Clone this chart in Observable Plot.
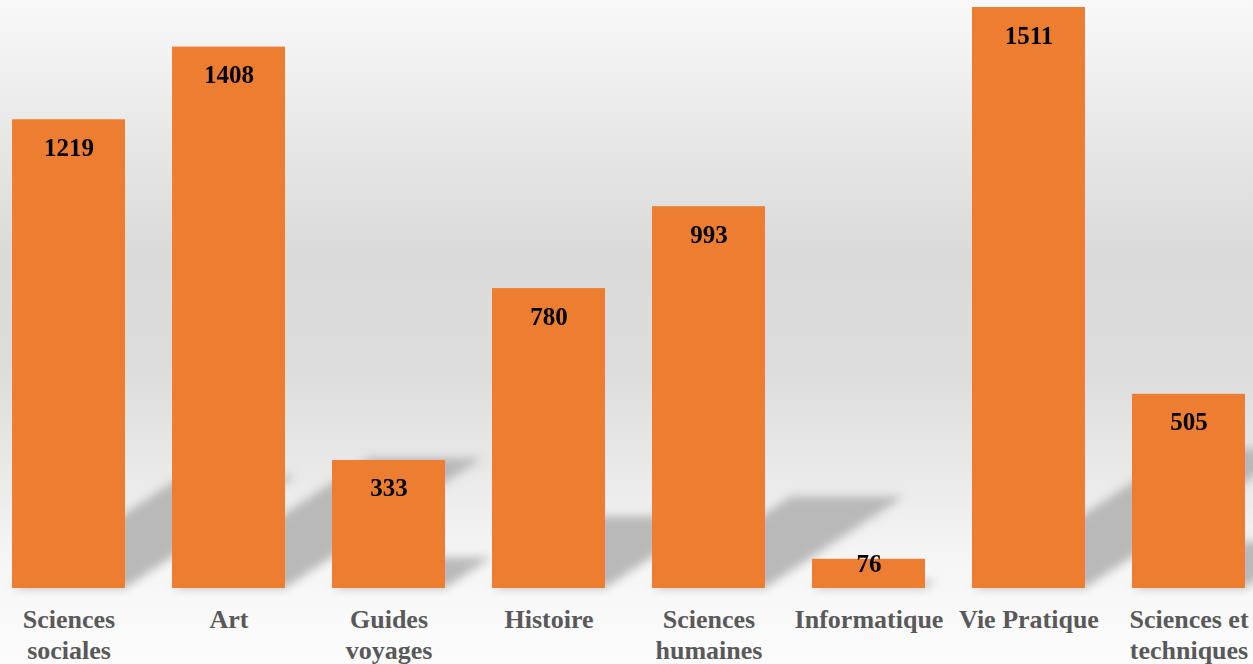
<!DOCTYPE html>
<html>
<head>
<meta charset="utf-8">
<script src="https://cdn.jsdelivr.net/npm/d3@7"></script>
<script src="https://cdn.jsdelivr.net/npm/@observablehq/plot@0.6"></script>
<style>
  html, body { margin: 0; padding: 0; background: #ffffff; }
  #chart svg { display: block; }
</style>
</head>
<body>
<div id="chart"></div>
<script>
const categories = ["Sciences sociales", "Art", "Guides voyages", "Histoire", "Sciences humaines", "Informatique", "Vie Pratique", "Sciences et techniques"];
const tickLabels = ["Sciences\nsociales", "Art", "Guides\nvoyages", "Histoire", "Sciences\nhumaines", "Informatique", "Vie Pratique", "Sciences et\ntechniques"];
const values = [1219, 1408, 333, 780, 993, 76, 1511, 505];

const data = categories.map((c, i) => ({category: c, value: values[i]}));
const serif = "'Liberation Serif', 'DejaVu Serif', serif";

const chart = Plot.plot({
  width: 1253,
  height: 664,
  marginTop: 7,
  marginBottom: 76,
  marginLeft: 0,
  marginRight: 0,
  style: {
    fontFamily: serif,
    background: "linear-gradient(to bottom, #f9f9f9 0%, #e8e8e8 20%, #dadada 38%, #dcdcdc 55%, #eaeaea 72%, #f6f6f6 85%, #fcfcfc 100%)"
  },
  x: {domain: categories, range: [-35, 1292], padding: 0.294, round: false},
  y: {domain: [0, 1511], axis: null},
  marks: [
    // shadows (transformed afterwards into a perspective shadow)
    Plot.barY(data, {x: "category", y: "value", fill: "#b2b2b2", fillOpacity: 0.9}),
    Plot.barY(data, {x: "category", y: "value", fill: "#ED7D31"}),
    Plot.text(data.filter(d => d.value >= 150), {x: "category", y: "value", text: d => String(d.value), dy: 28, fontSize: 25, fontWeight: "bold", fill: "#000000", fontFamily: serif}),
    Plot.text(data.filter(d => d.value < 150), {x: "category", y: "value", text: d => String(d.value), dy: 5, fontSize: 25, fontWeight: "bold", fill: "#000000", fontFamily: serif}),
    Plot.axisX({
      tickSize: 0,
      tickPadding: 18,
      fontSize: 26,
      fontWeight: "bold",
      fontFamily: serif,
      lineAnchor: "top",
      lineHeight: 1.19,
      color: "#595959",
      label: null,
      tickFormat: d => tickLabels[categories.indexOf(d)]
    })
  ]
});

// perspective shadow: squash and skew the shadow bars about the baseline
const y0 = chart.scale("y").apply(0);
const svg = d3.select(chart);
const defs = svg.insert("defs", ":first-child");
defs.append("filter")
  .attr("id", "shadowBlur")
  .attr("filterUnits", "userSpaceOnUse")
  .attr("x", -50).attr("y", 0).attr("width", 1400).attr("height", 664)
  .append("feGaussianBlur").attr("stdDeviation", 5);
const barGroups = chart.querySelectorAll("g[aria-label='bar']");
const shadowGroup = d3.select(barGroups[0]);
shadowGroup.attr("filter", "url(#shadowBlur)");
shadowGroup.selectAll("rect")
  .attr("transform", `translate(0,${y0}) skewX(-56.6) scale(1,0.24) translate(0,${-y0})`);

document.getElementById("chart").append(chart);
</script>
</body>
</html>
